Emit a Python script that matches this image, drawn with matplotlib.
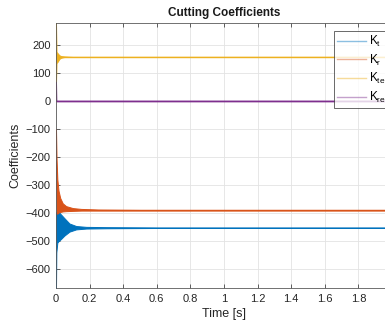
import numpy as np
import matplotlib
matplotlib.use("Agg")
import matplotlib.pyplot as plt
from matplotlib.lines import Line2D

plt.rcParams['font.family'] = ['Liberation Sans', 'DejaVu Sans']

# envelope of each coefficient trace (upper / lower bound of the oscillation)
t_kt = [0, 0.002, 0.008, 0.015, 0.03, 0.05, 0.08, 0.12, 0.18, 0.3, 0.6, 1.0, 2.0]
kt_hi = [-400, -395, -393, -396, -405, -418, -437, -446, -449, -450, -451, -451, -451]
kt_lo = [-667, -540, -505, -500, -492, -480, -466, -458, -455, -454, -453, -453, -453]

t_kr = [0, 0.003, 0.008, 0.015, 0.025, 0.04, 0.06, 0.1, 0.15, 0.25, 0.5, 1.0, 2.0]
kr_hi = [-100, -200, -280, -320, -346, -365, -375, -382, -385, -387, -388, -388, -388]
kr_lo = [-210, -400, -402, -398, -396, -394, -393, -392, -391, -391, -391, -391, -391]

t_kte = [0, 0.003, 0.01, 0.02, 0.03, 0.05, 0.1, 2.0]
kte_hi = [278, 175, 170, 163, 160, 159, 158, 158]
kte_lo = [64, 135, 140, 150, 154, 156, 156, 156]

t_kre = [0, 0.002, 2.0]
kre_hi = [68, 1.5, 1.5]
kre_lo = [0, -1.5, -1.5]

labels = ['K$_\\mathregular{t}$', 'K$_\\mathregular{r}$', 'K$_\\mathregular{te}$', 'K$_\\mathregular{re}$']
colors = ['#0072BD', '#D95319', '#EDB120', '#7E2F8E']

series = [(t_kt, kt_lo, kt_hi), (t_kr, kr_lo, kr_hi),
          (t_kte, kte_lo, kte_hi), (t_kre, kre_lo, kre_hi)]

fig = plt.figure(figsize=(3.85, 3.25), dpi=100)
ax = fig.add_axes([56/385, 37/325, 336/385, 265/325])

for (t, lo, hi), c in zip(series, colors):
    ax.fill_between(t, lo, hi, color=c, lw=0.7, edgecolor=c)

ax.set_xlim(0, 2)
ax.set_ylim(min(kt_lo), max(kte_hi))
ax.set_xticks(np.arange(0, 2.01, 0.2))
ax.set_xticklabels(['0', '0.2', '0.4', '0.6', '0.8', '1', '1.2', '1.4', '1.6', '1.8', ''])
ax.set_yticks(np.arange(-600, 201, 100))

ax.grid(True, color='#e3e3e3', lw=0.6)
ax.set_axisbelow(True)
ax.tick_params(direction='in', length=3, width=0.5, labelsize=8, colors='#262626',
               top=True, right=True, pad=4)
for s in ax.spines.values():
    s.set_color('#5a5a5a')
    s.set_linewidth(0.6)

ax.set_title('Cutting Coefficients', fontsize=8.5, fontweight='bold', color='#1a1a1a', pad=5)
ax.set_xlabel('Time [s]', fontsize=9, color='#262626', labelpad=3)
ax.set_ylabel('Coefficients', fontsize=9, color='#262626', labelpad=3)

handles = [Line2D([], [], color=c, lw=1.0, alpha=0.45) for c in colors]
leg = ax.legend(handles, labels, loc='upper right', fontsize=8.5,
                bbox_to_anchor=(389/385, 1 - 31/325), bbox_transform=fig.transFigure,
                borderaxespad=0, frameon=True, fancybox=False, handlelength=2.4,
                handletextpad=0.3, labelspacing=0.3, borderpad=0.25)
leg.get_frame().set_edgecolor('#262626')
leg.get_frame().set_linewidth(0.6)

fig.savefig('out.png', dpi=100)
